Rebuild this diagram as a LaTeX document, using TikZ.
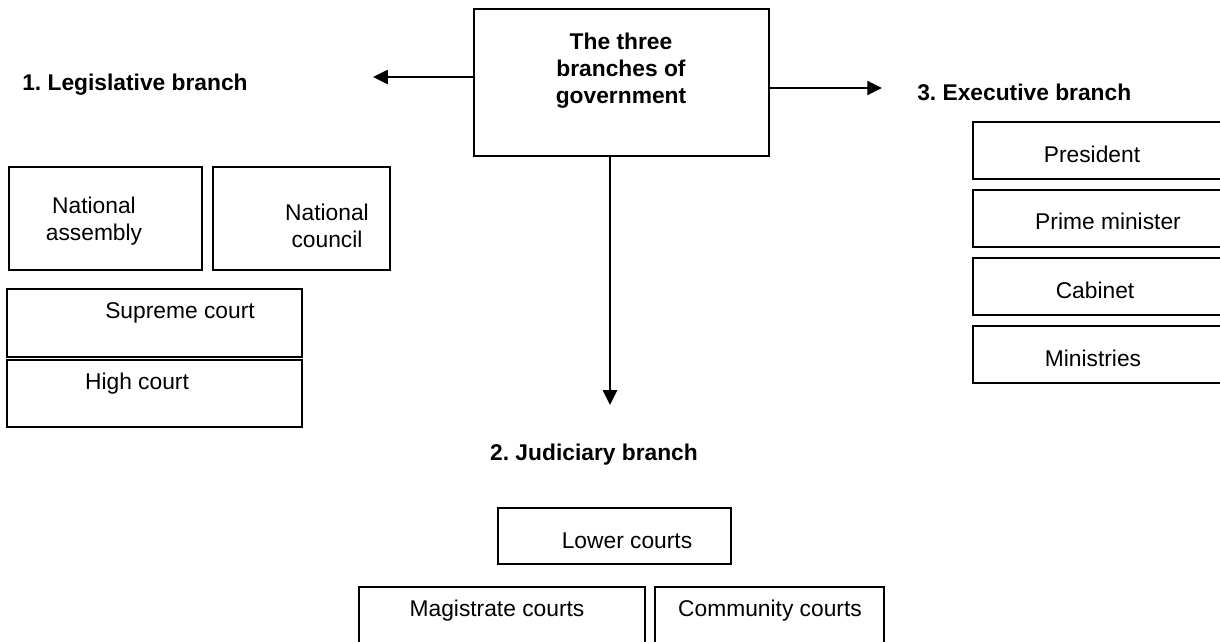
\documentclass[tikz,border=0pt]{standalone}
\usepackage{fontspec}
\setmainfont{Liberation Sans}
\usetikzlibrary{arrows.meta}
\frenchspacing
\tikzset{
  box/.style={line width=1.2pt},
  arr/.style={line width=1.2pt,-{Triangle[length=10.5pt,width=10pt]}},
  txt/.style={inner sep=0pt,font=\fontsize{16.2}{19.2}\selectfont},
  lbl/.style={inner sep=0pt,font=\fontsize{16.2}{19.2}\selectfont\bfseries}
}
\begin{document}
\begin{tikzpicture}[x=0.025cm,y=-0.025cm]
  \useasboundingbox (0,0) rectangle (1220,641);
  \clip (0,0) rectangle (1220,641);
  \node[draw,box,minimum width=7.375cm,minimum height=3.675cm](gov)at(621.5,82.5){};
  \node[lbl,align=center](govtext)at(621,71){The three\\branches of\\government};
  \node[lbl,anchor=base west](leg)at(22,90){1. Legislative branch};
  \node[lbl,anchor=base west](exe)at(917,100){3. Executive branch};
  \node[lbl,anchor=base](jud)at(594,460){2. Judiciary branch};
  \coordinate (legtip) at (373,77);
  \coordinate (exetip) at (882,88);
  \coordinate (judtip) at (610,405);
  \draw[arr] (gov.west |- legtip) -- (legtip);
  \draw[arr] (gov.east |- exetip) -- (exetip);
  \draw[arr] (gov.south -| judtip) -- (judtip);
  \draw[box] (9,167) rectangle (202,270);
  \draw[box] (213,167) rectangle (390,270);
  \draw[box] (7,289) rectangle (302,357);
  \draw[box] (7,360) rectangle (302,427);
  \node[txt,align=center](assembly)at(94,221){National\\assembly};
  \node[txt,align=center](council)at(327,226){National\\council};
  \node[txt,anchor=base](supreme)at(180,318){Supreme court};
  \node[txt,anchor=base](high)at(137,389){High court};
  \draw[box] (973,122) rectangle (1240,179);
  \draw[box] (973,190) rectangle (1240,247);
  \draw[box] (973,258) rectangle (1240,315);
  \draw[box] (973,326) rectangle (1240,383);
  \node[txt,anchor=base](president)at(1092,162){President};
  \node[txt,anchor=base](prime)at(1108,229){Prime minister};
  \node[txt,anchor=base](cabinet)at(1095,298){Cabinet};
  \node[txt,anchor=base](ministries)at(1093,366){Ministries};
  \draw[box] (498,508) rectangle (731,564);
  \draw[box] (359,587) rectangle (645,660);
  \draw[box] (655,587) rectangle (884,660);
  \node[txt,anchor=base](lower)at(627,548){Lower courts};
  \node[txt,anchor=base](magistrate)at(497,616){Magistrate courts};
  \node[txt,anchor=base](community)at(770,616){Community courts};
\end{tikzpicture}
\end{document}
